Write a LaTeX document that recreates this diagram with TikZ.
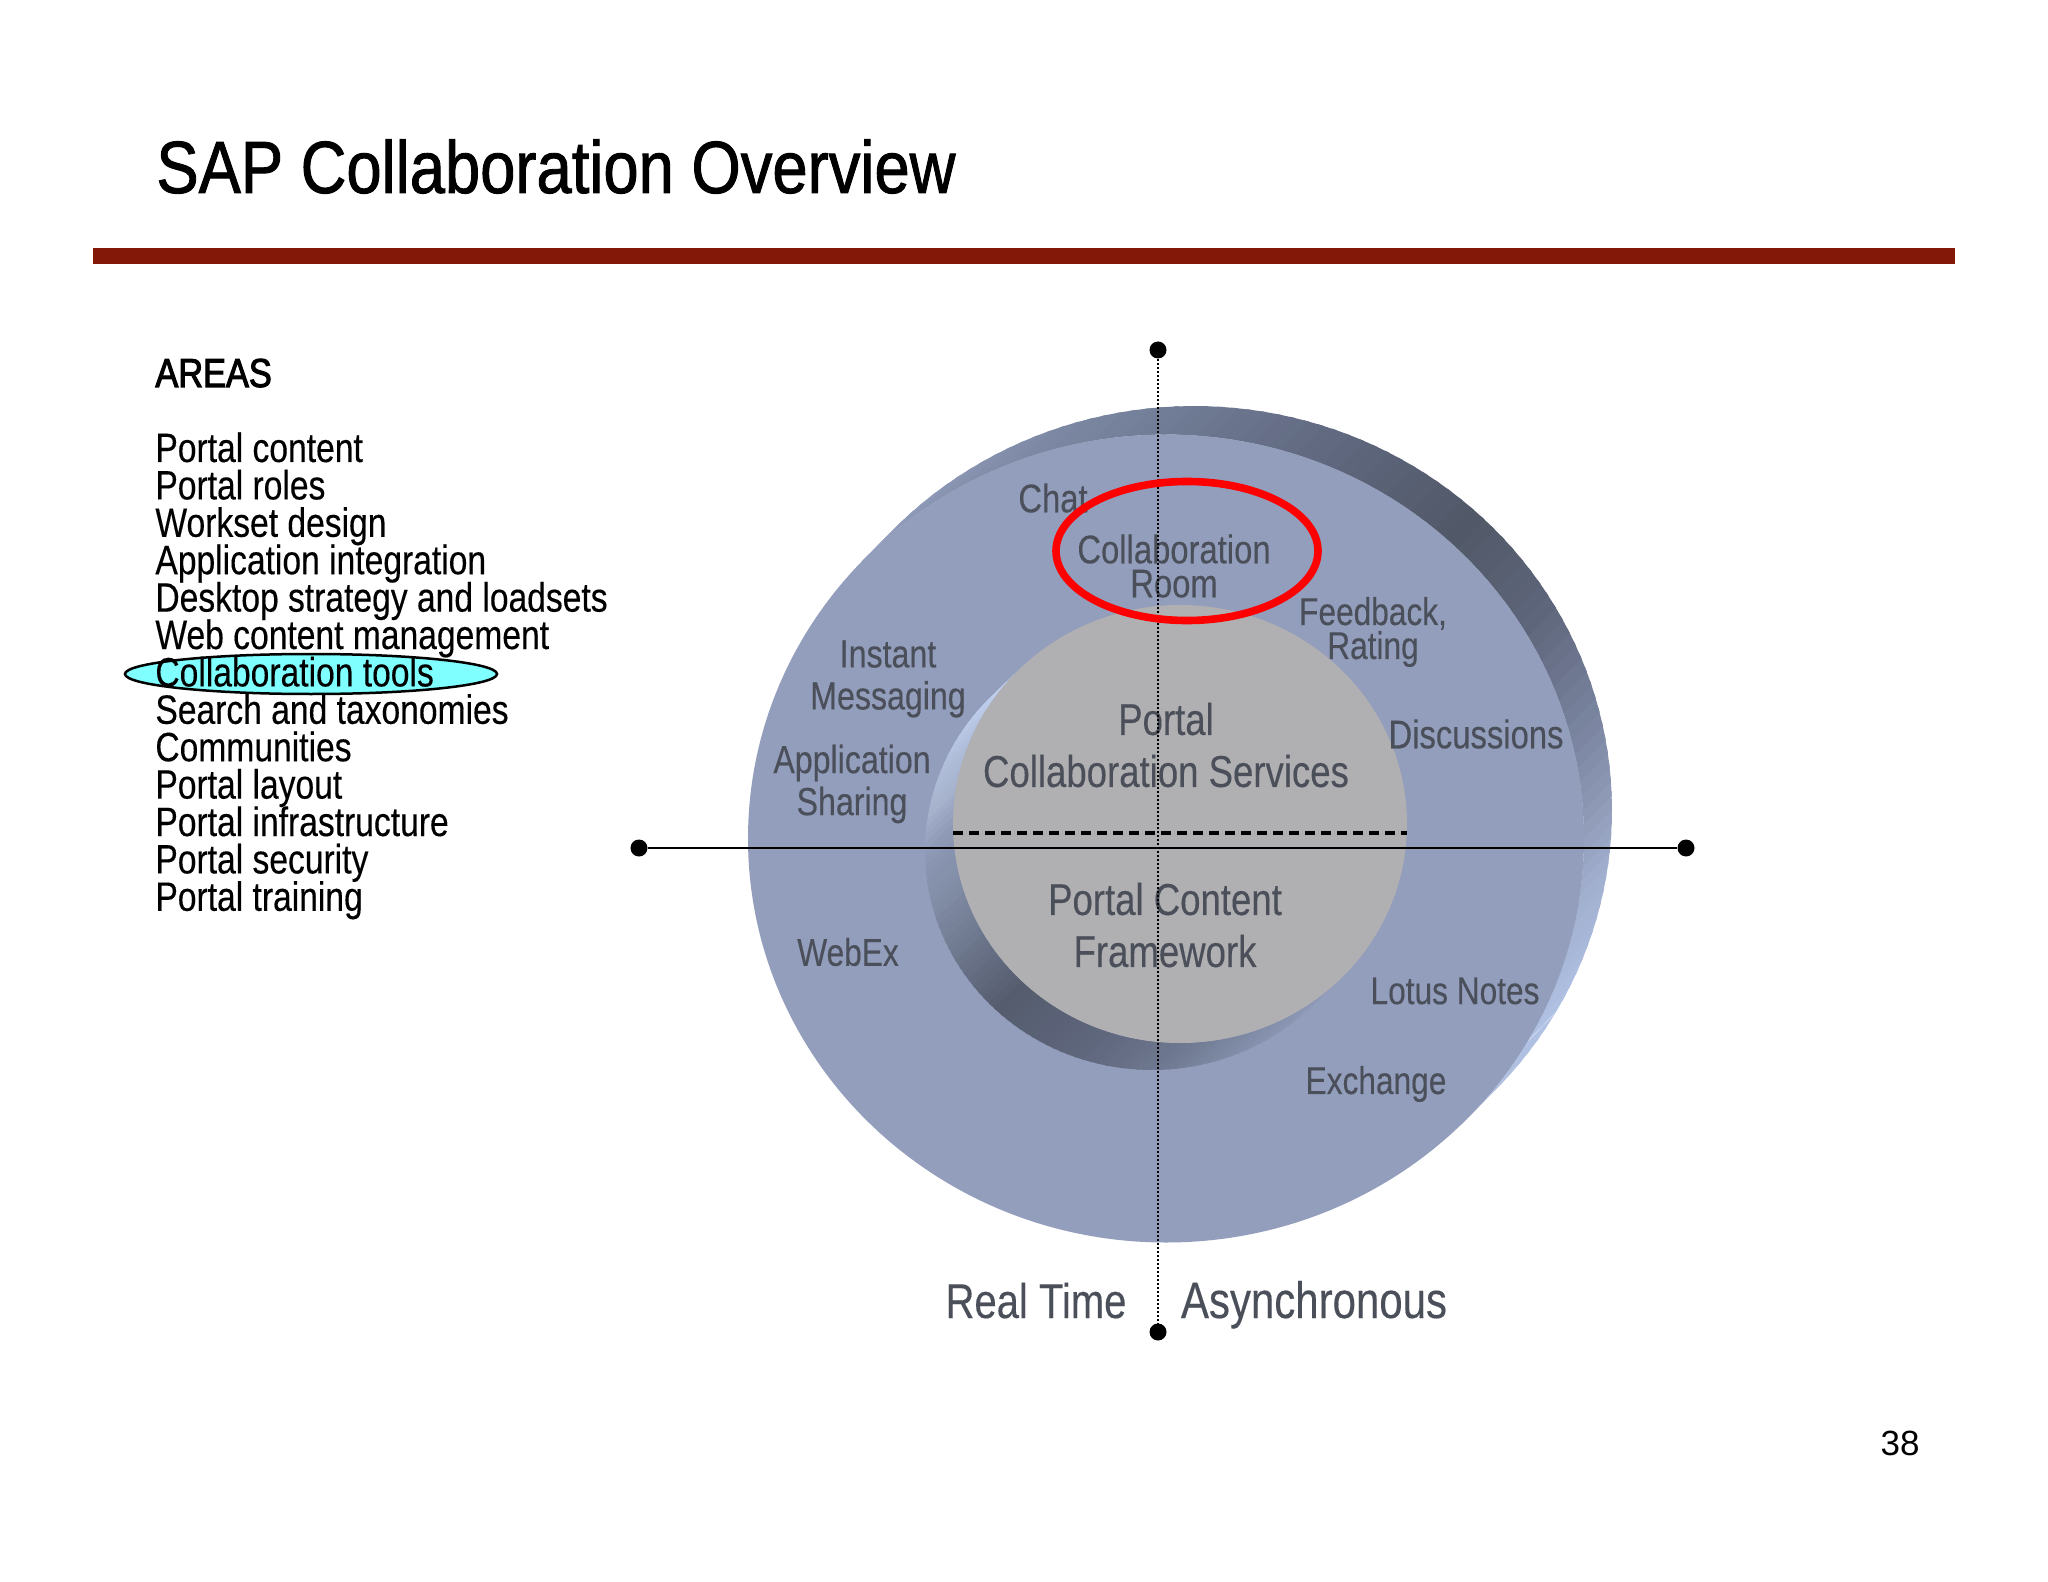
\documentclass[tikz,border=0pt]{standalone}
\usepackage{fontspec}
\usetikzlibrary{shapes.geometric}
\setmainfont{Liberation Sans}
\newfontfamily\titlefont[FakeStretch=0.856,FakeBold=1.2]{Liberation Sans}
\newfontfamily\narrowfont[FakeStretch=0.82,FakeBold=0.25]{Liberation Sans}
\newfontfamily\areasfont[FakeStretch=0.85,FakeBold=2.5]{Liberation Sans}
\definecolor{faceblue}{HTML}{929EBC}
\definecolor{discgray}{HTML}{B0AFB2}
\definecolor{labelgray}{HTML}{4A4F5A}
\definecolor{barred}{HTML}{831708}
\definecolor{hilitecyan}{HTML}{7FFFFF}
\tikzset{
  lbl/.style={font=\narrowfont\fontsize{20}{17}\selectfont,text=labelgray,align=center,inner sep=0pt},
  lblsmall/.style={font=\narrowfont\fontsize{19.3}{17}\selectfont,text=labelgray,align=center,inner sep=0pt},
  lblwide/.style={font=\narrowfont\fontsize{19.6}{21}\selectfont,text=labelgray,align=center,inner sep=0pt},
  biglbl/.style={font=\narrowfont\fontsize{22.3}{26}\selectfont,text=labelgray,align=center,inner sep=0pt},
  axislbl/.style={font=\narrowfont\fontsize{25.6}{26}\selectfont,text=labelgray,inner sep=0pt,anchor=base},
  listitem/.style={font=\narrowfont\fontsize{20.5}{20.5}\selectfont,text=black,anchor=base west,inner sep=0pt},
  axisdot/.style={circle,fill=black,inner sep=0pt,minimum size=8.5pt}
}
% wall cx1 cy1 cx2 cy2 rx ry a0 a1 colA colB
\newcommand{\wallseg}[9]{%
  \def\wOne{#1}\def\wTwo{#2}\def\wThree{#3}\def\wFour{#4}\def\wFive{#5}\def\wSix{#6}%
  \def\wA{#7}\def\wB{#8}\def\wC{#9}\wallfinish}
\newcommand{\wallfinish}[1]{%
  \foreach \aa in {\wA,\the\numexpr\wA+2\relax,...,\the\numexpr\wB-2\relax}{%
    \pgfmathsetmacro{\ab}{\aa+2.7}%
    \pgfmathsetmacro{\tt}{100*(\aa-\wA)/(\wB-\wA)}%
    \fill[#1!\tt!\wC]
      ({\wOne+\wFive*cos(\aa)},{\wTwo-\wSix*sin(\aa)}) --
      ({\wOne+\wFive*cos(\ab)},{\wTwo-\wSix*sin(\ab)}) --
      ({\wThree+\wFive*cos(\ab)},{\wFour-\wSix*sin(\ab)}) --
      ({\wThree+\wFive*cos(\aa)},{\wFour-\wSix*sin(\aa)}) -- cycle;
  }}
\definecolor{o0}{HTML}{AEBEDE}
\definecolor{o1}{HTML}{B0C2E4}
\definecolor{o2}{HTML}{A2B0CF}
\definecolor{o3}{HTML}{929DBA}
\definecolor{o4}{HTML}{7F8AA6}
\definecolor{o5}{HTML}{5E667B}
\definecolor{o6}{HTML}{515868}
\definecolor{o7}{HTML}{5A6277}
\definecolor{o8}{HTML}{707B95}
\definecolor{o9}{HTML}{7F8BA6}
\definecolor{i0}{HTML}{C4D4F4}
\definecolor{i1}{HTML}{A6B2CC}
\definecolor{i2}{HTML}{8E9AB6}
\definecolor{i3}{HTML}{7F8AA3}
\definecolor{i4}{HTML}{555C6E}
\definecolor{i5}{HTML}{5F677D}
\definecolor{i6}{HTML}{6E7890}
\definecolor{i7}{HTML}{828DA9}
\begin{document}
\begin{tikzpicture}[x=0.5pt,y=-0.5pt]
\useasboundingbox (0,0) rectangle (2048,1582);
\fill[white] (0,0) rectangle (2048,1582);
% title and rule
\node[font=\titlefont\fontsize{37}{37}\selectfont,anchor=base west,inner sep=0pt] (title) at (156,193) {SAP Collaboration Overview};
\fill[barred] (93,248) rectangle (1955,264);
% outer extruded wall
\wallseg{1166}{838.5}{1194}{810}{418}{404}{-45}{-30}{o0}{o1}
\wallseg{1166}{838.5}{1194}{810}{418}{404}{-30}{-10}{o1}{o2}
\wallseg{1166}{838.5}{1194}{810}{418}{404}{-10}{0}{o2}{o3}
\wallseg{1166}{838.5}{1194}{810}{418}{404}{0}{10}{o3}{o4}
\wallseg{1166}{838.5}{1194}{810}{418}{404}{10}{30}{o4}{o5}
\wallseg{1166}{838.5}{1194}{810}{418}{404}{30}{46}{o5}{o6}
\wallseg{1166}{838.5}{1194}{810}{418}{404}{46}{60}{o6}{o7}
\wallseg{1166}{838.5}{1194}{810}{418}{404}{60}{90}{o7}{o8}
\wallseg{1166}{838.5}{1194}{810}{418}{404}{90}{110}{o8}{o9}
\wallseg{1166}{838.5}{1194}{810}{418}{404}{110}{136}{o9}{faceblue}
\fill[faceblue] (1166,838.5) ellipse [x radius=418,y radius=404];
% inner wall of the hole
\wallseg{1152}{851}{1180}{824}{227}{219}{134}{170}{i0}{i1}
\wallseg{1152}{851}{1180}{824}{227}{219}{170}{180}{i1}{i2}
\wallseg{1152}{851}{1180}{824}{227}{219}{180}{196}{i2}{i3}
\wallseg{1152}{851}{1180}{824}{227}{219}{196}{226}{i3}{i4}
\wallseg{1152}{851}{1180}{824}{227}{219}{226}{250}{i4}{i5}
\wallseg{1152}{851}{1180}{824}{227}{219}{250}{270}{i5}{i6}
\wallseg{1152}{851}{1180}{824}{227}{219}{270}{290}{i6}{i7}
\wallseg{1152}{851}{1180}{824}{227}{219}{290}{316}{i7}{faceblue}
\fill[discgray] (1180,824) ellipse [x radius=227,y radius=219];
% left list
\node[font=\areasfont\fontsize{20.2}{20.2}\selectfont,anchor=base west,inner sep=0pt] (areas) at (155,387) {AREAS};
\node[listitem] (l1) at (155,462) {Portal content};
\node[listitem] (l2) at (155,499.4) {Portal roles};
\node[listitem] (l3) at (155,536.8) {Workset design};
\node[listitem] (l4) at (155,574.2) {Application integration};
\node[listitem] (l5) at (155,611.6) {Desktop strategy and loadsets};
\node[listitem] (l6) at (155,649) {Web content management};
\node[listitem] (l8) at (155,723.8) {Search and taxonomies};
\node[listitem] (l9) at (155,761.2) {Communities};
\node[listitem] (l10) at (155,798.6) {Portal layout};
\node[listitem] (l11) at (155,836) {Portal infrastructure};
\node[listitem] (l12) at (155,873.4) {Portal security};
\node[listitem] (l13) at (155,910.8) {Portal training};
\node[ellipse,draw=black,fill=hilitecyan,line width=1.25pt,minimum width=186pt,minimum height=20pt,inner sep=0pt] (hilite) at (311,674) {};
\node[listitem] (l7) at (155,686.4) {Collaboration tools};
% labels
\node[lbl] (chat) at (1053,498) {Chat};
\node[lbl] (room) at (1174,566) {Collaboration\\Room};
\node[lblsmall] (feedback) at (1373,632) {Feedback,\\Rating};
\node[lblwide] (instant) at (888,679) {Instant\\Messaging};
\node[lblwide] (appshare) at (852,784) {Application\\Sharing};
\node[lbl] (disc) at (1476,734) {Discussions};
\node[biglbl] (pcs) at (1166,745) {Portal\\Collaboration Services};
\node[biglbl] (pcf) at (1165,925) {Portal Content\\Framework};
\node[lblsmall] (webex) at (848,952) {WebEx};
\node[lblsmall] (lotus) at (1455,991) {Lotus Notes};
\node[lblsmall] (exch) at (1376,1084) {Exchange};
\node[axislbl,font=\narrowfont\fontsize{24.4}{26}\selectfont] (rt) at (1036,1318) {Real Time};
\node[axislbl] (asy) at (1314,1318) {Asynchronous};
% axes
\coordinate (dashL) at (953,833);
\coordinate (dashR) at (1407,833);
\draw[line width=1.6pt,dash pattern=on 5pt off 3pt] (dashL) -- (dashR);
\node[axisdot] (dotL) at (639,848) {};
\node[axisdot] (dotR) at (1686,848) {};
\node[axisdot] (dotT) at (1158,350) {};
\node[axisdot] (dotB) at (1158,1332) {};
\draw[line width=1.1pt] (dotL) -- (dotR);
\draw[line width=1pt,dash pattern=on 1pt off 1pt] (dotT) -- (dotB);
% red ellipse
\node[ellipse,draw=red,line width=3.8pt,minimum width=131pt,minimum height=69.5pt,inner sep=0pt] (redring) at (1187,551) {};
% page number
\node[font=\fontsize{17.5}{17.5}\selectfont,inner sep=0pt] (pageno) at (1900,1443) {38};
\end{tikzpicture}
\end{document}
